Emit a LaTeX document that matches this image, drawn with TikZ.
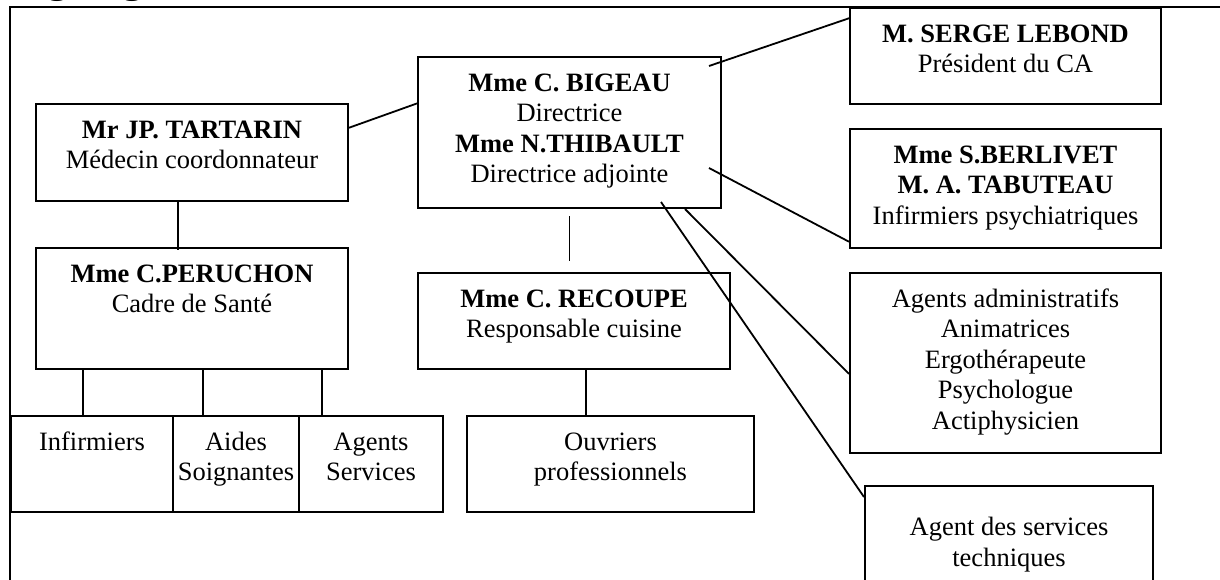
\documentclass[tikz,border=0pt]{standalone}
\usepackage{fontspec}
\setmainfont{Liberation Serif}
\usetikzlibrary{calc}
\begin{document}
\begin{tikzpicture}[x=1pt,y=-1pt,
  box/.style={draw, line width=2pt, inner sep=0pt, anchor=north west},
  txt/.style={align=center, inner sep=0pt, font=\fontsize{26.5}{30.5}\selectfont, below=13.6pt},
  conn/.style={line width=1.8pt},
  frame/.style={line width=2.6pt}]
\useasboundingbox (0,0) rectangle (1220,580);
\clip (0,0) rectangle (1220,580);
\fill[white] (0,0) rectangle (1220,580);

% partly visible title
\node[anchor=base west, inner sep=0pt, font=\bfseries\fontsize{41}{45}\selectfont] (title) at (-3,-7) {Organigramme};

% outer frame
\draw[frame] (10,620) -- (10,7) -- (1260,7);

% boxes
\node[box, minimum width=312pt, minimum height=97pt]  (tartarin) at (35,103) {};
\node[box, minimum width=303pt, minimum height=151pt] (bigeau)   at (417,56) {};
\node[box, minimum width=311pt, minimum height=96pt]  (lebond)   at (849,7) {};
\node[box, minimum width=311pt, minimum height=119pt] (berlivet) at (849,128) {};
\node[box, minimum width=311pt, minimum height=180pt] (admin)    at (849,272) {};
\node[box, minimum width=288pt, minimum height=130pt] (tech)     at (864,485) {};
\node[box, minimum width=312pt, minimum height=121pt] (peruchon) at (35,247) {};
\node[box, minimum width=312pt, minimum height=96pt]  (recoupe)  at (417,272) {};
\node[box, minimum width=162pt, minimum height=96pt]  (inf)      at (10,415) {};
\node[box, minimum width=126pt, minimum height=96pt]  (aides)    at (172,415) {};
\node[box, minimum width=144pt, minimum height=96pt]  (agents)   at (298,415) {};
\node[box, minimum width=287pt, minimum height=96pt]  (ouvriers) at (466,415) {};

% texts
\node[txt] (tartarin-t) at (tartarin.north) {\strut\textbf{Mr JP. TARTARIN}\\\strut Médecin coordonnateur};
\node[txt] (bigeau-t) at (bigeau.north) {\strut\textbf{Mme C. BIGEAU}\\\strut Directrice\\\strut\textbf{Mme N.THIBAULT}\\\strut Directrice adjointe};
\node[txt] (lebond-t) at (lebond.north) {\strut\textbf{M. SERGE LEBOND}\\\strut Président du CA};
\node[txt] (berlivet-t) at (berlivet.north) {\strut\textbf{Mme S.BERLIVET}\\\strut\textbf{M. A. TABUTEAU}\\\strut Infirmiers psychiatriques};
\node[txt] (admin-t) at (admin.north) {\strut Agents administratifs\\\strut Animatrices\\\strut Ergothérapeute\\\strut Psychologue\\\strut Actiphysicien};
\node[txt, below=15.6pt] (tech-t) at (tech.north) {\strut Agent des services\\\strut techniques};
\node[txt] (peruchon-t) at (peruchon.north) {\strut\textbf{Mme C.PERUCHON}\\\strut Cadre de Santé};
\node[txt] (recoupe-t) at (recoupe.north) {\strut\textbf{Mme C. RECOUPE}\\\strut Responsable cuisine};
\node[txt] (inf-t) at (inf.north) {\strut Infirmiers};
\node[txt] (aides-t) at (aides.north) {\strut Aides\\\strut Soignantes};
\node[txt] (agents-t) at (agents.north) {\strut Agents\\\strut Services};
\node[txt] (ouvriers-t) at (ouvriers.north) {\strut Ouvriers\\\strut professionnels};

% connector end points
\coordinate (b1) at ($(bigeau.north east)+(-13,10)$);
\coordinate (b2) at ($(bigeau.north east)+(-13,112)$);
\coordinate (b3) at ($(bigeau.south east)+(-37,0)$);
\coordinate (b4) at ($(bigeau.south east)+(-61,-7)$);
\coordinate (tp) at ($(tartarin.south west)+(143,0)$);
\coordinate (p1) at ($(peruchon.south west)+(48,0)$);
\coordinate (p2) at ($(peruchon.south west)+(168,0)$);
\coordinate (p3) at ($(peruchon.south west)+(287,0)$);
\coordinate (r1) at ($(recoupe.south west)+(169,0)$);

% connectors
\draw[conn] ($(tartarin.north east)!0.25!(tartarin.south east)$) -- ($(bigeau.north west)!0.31!(bigeau.south west)$);
\draw[conn] (b1) -- ($(lebond.north west)!0.115!(lebond.south west)$);
\draw[conn] (b2) -- ($(berlivet.north west)!0.94!(berlivet.south west)$);
\draw[conn] (b3) -- ($(admin.north west)!0.56!(admin.south west)$);
\draw[conn] (b4) -- ($(tech.north west)+(0,12)$);
\draw[conn] ($(bigeau.south)+(0,7)$) -- ($(bigeau.south |- recoupe.north)+(0,-11)$);
\draw[conn] (tp) -- ($(tp |- peruchon.north)+(0,3)$);
\draw[conn] (p1) -- (p1 |- inf.north);
\draw[conn] (p2) -- (p2 |- aides.north);
\draw[conn] (p3) -- (p3 |- agents.north);
\draw[conn] (r1) -- (r1 |- ouvriers.north);
\end{tikzpicture}
\end{document}
